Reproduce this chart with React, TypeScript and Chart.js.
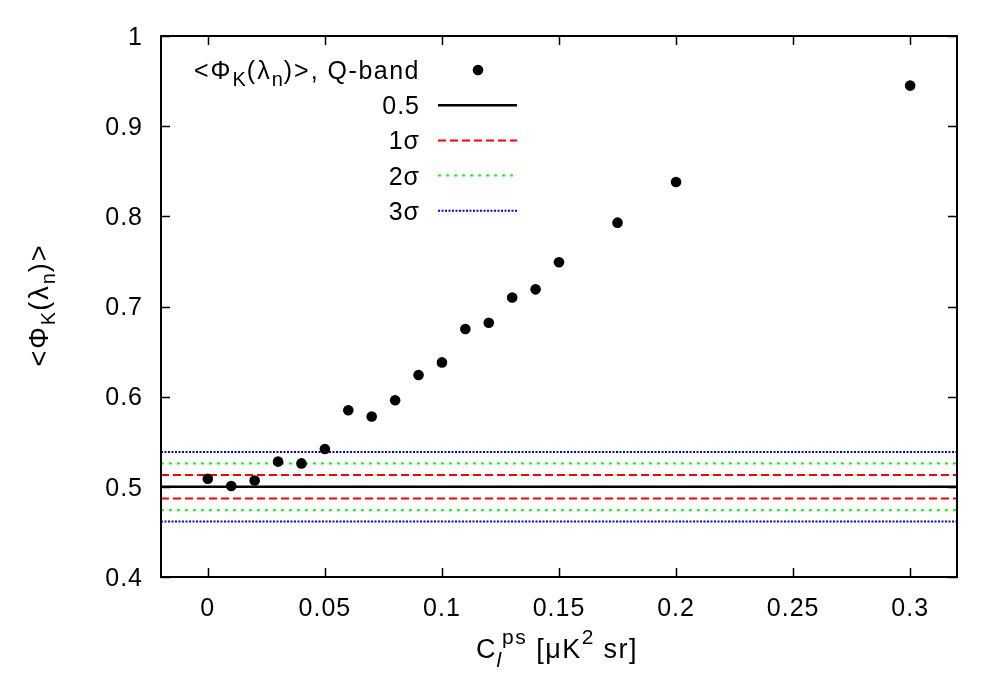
import React, { useEffect, useRef } from "react";
import { Chart, registerables } from "chart.js";

Chart.register(...registerables);

// ---- data ----
const cpsValues = [0, 0.01, 0.02, 0.03, 0.04, 0.05, 0.06, 0.07, 0.08, 0.09, 0.1, 0.11, 0.12, 0.13, 0.14, 0.15, 0.175, 0.2, 0.3];
const phiValues = [0.509, 0.501, 0.507, 0.528, 0.526, 0.542, 0.585, 0.578, 0.596, 0.624, 0.638, 0.675, 0.682, 0.71, 0.719, 0.749, 0.793, 0.838, 0.945];
const centralLevel = 0.5;
const sigma1Levels = [0.513, 0.487];
const sigma2Levels = [0.526, 0.474];
const sigma3Levels = [0.5385, 0.4615];
const xTickValues = [0, 0.05, 0.1, 0.15, 0.2, 0.25, 0.3];
const xTickLabels = ["0", "0.05", "0.1", "0.15", "0.2", "0.25", "0.3"];
const yTickValues = [0.4, 0.5, 0.6, 0.7, 0.8, 0.9, 1];
const yTickLabels = ["0.4", "0.5", "0.6", "0.7", "0.8", "0.9", "1"];
const xRange = [-0.02, 0.32];
const yRange = [0.4, 1];

const FAMILY = '"Liberation Sans", Arial, Helvetica, sans-serif';
const TICK = 25;
const MAIN = 25;
const TITLE = 27;
const SMALL = 20;
const SPACING = 1;

type Seg = { t: string; size?: number; dy?: number; italic?: boolean; sp?: number };

function segFont(s: Seg, base: number) {
  return `${s.italic ? "italic " : ""}${s.size ?? base}px ${FAMILY}`;
}

function drawRich(
  ctx: CanvasRenderingContext2D,
  segs: Seg[],
  x: number,
  y: number,
  align: "left" | "right" | "center",
  base: number
) {
  const c: any = ctx;
  const widths = segs.map((s) => {
    ctx.font = segFont(s, base);
    c.letterSpacing = `${s.sp ?? SPACING}px`;
    return ctx.measureText(s.t).width;
  });
  const total = widths.reduce((a, b) => a + b, 0);
  let cx = align === "left" ? x : align === "right" ? x - total + SPACING : x - total / 2;
  ctx.textAlign = "left";
  ctx.textBaseline = "alphabetic";
  segs.forEach((s, i) => {
    ctx.font = segFont(s, base);
    c.letterSpacing = `${s.sp ?? SPACING}px`;
    ctx.fillText(s.t, cx, y + (s.dy ?? 0));
    cx += widths[i];
  });
  c.letterSpacing = "0px";
}

const phiLabel: Seg[] = [
  { t: "<Φ", sp: 2 },
  { t: "K", size: SMALL, dy: 7 },
  { t: "(λ", sp: 2 },
  { t: "n", size: SMALL, dy: 7 },
  { t: ")>", sp: 2 },
];

const xTitle: Seg[] = [
  { t: "C" },
  { t: "l", size: SMALL + 1, dy: 9, italic: true },
  { t: "ps", size: SMALL + 1, dy: -14, sp: 1.5 },
  { t: " [μK", sp: 1.5 },
  { t: "2", size: SMALL + 1, dy: -14 },
  { t: " sr]", sp: 1.5 },
];

type LegendRow = { label: Seg[]; kind: "dot" | "line"; color?: string; dash?: number[]; width?: number };
const legendRows: LegendRow[] = [
  { label: [...phiLabel, { t: ", Q-band", sp: 1.5 }], kind: "dot" },
  { label: [{ t: "0.5" }], kind: "line", color: "#000000", dash: [], width: 2.5 },
  { label: [{ t: "1σ" }], kind: "line", color: "#ff0000", dash: [8, 4], width: 2 },
  { label: [{ t: "2σ" }], kind: "line", color: "#00ff00", dash: [3, 5], width: 2 },
  { label: [{ t: "3σ" }], kind: "line", color: "#0000ff", dash: [2, 1.5], width: 2 },
];

const framePlugin = {
  id: "gnuplotFrame",
  afterDraw(chart: any) {
    const ctx: CanvasRenderingContext2D = chart.ctx;
    const { left, right, top, bottom } = chart.chartArea;
    const xs = chart.scales.x;
    const ys = chart.scales.y;
    ctx.save();
    ctx.strokeStyle = "#000";
    ctx.fillStyle = "#000";
    ctx.setLineDash([]);
    // ticks (inward, mirrored)
    ctx.lineWidth = 1.5;
    const tl = 9;
    ctx.beginPath();
    xTickValues.forEach((v) => {
      const px = Math.round(xs.getPixelForValue(v)) + 0.5;
      ctx.moveTo(px, bottom);
      ctx.lineTo(px, bottom - tl);
      ctx.moveTo(px, top);
      ctx.lineTo(px, top + tl);
    });
    yTickValues.forEach((v) => {
      const py = Math.round(ys.getPixelForValue(v)) + 0.5;
      ctx.moveTo(left, py);
      ctx.lineTo(left + tl, py);
      ctx.moveTo(right, py);
      ctx.lineTo(right - tl, py);
    });
    ctx.stroke();
    // frame
    ctx.lineWidth = 2;
    ctx.strokeRect(left, top, right - left, bottom - top);

    // tick labels
    xTickValues.forEach((v, i) => {
      drawRich(ctx, [{ t: xTickLabels[i] }], xs.getPixelForValue(v), bottom + 38.5, "center", TICK);
    });
    yTickValues.forEach((v, i) => {
      drawRich(ctx, [{ t: yTickLabels[i] }], left - 19, ys.getPixelForValue(v) + 8.8, "right", TICK);
    });

    // axis titles
    drawRich(ctx, xTitle, (left + right) / 2 - 2, 658, "center", TITLE);
    ctx.save();
    ctx.translate(48, 305);
    ctx.rotate(-Math.PI / 2);
    drawRich(ctx, phiLabel, 0, 0, "center", TITLE);
    ctx.restore();

    // legend
    const textRight = 419;
    const sx0 = 438;
    const sx1 = 517;
    legendRows.forEach((row, i) => {
      const cy = 70 + i * 35.2;
      ctx.fillStyle = "#000";
      drawRich(ctx, row.label, textRight, cy + 9, "right", MAIN);
      if (row.kind === "dot") {
        ctx.beginPath();
        ctx.arc(478, cy, 5.3, 0, Math.PI * 2);
        ctx.fill();
      } else {
        ctx.strokeStyle = row.color!;
        ctx.lineWidth = row.width!;
        ctx.setLineDash(row.dash!);
        ctx.beginPath();
        ctx.moveTo(sx0, cy);
        ctx.lineTo(sx1, cy);
        ctx.stroke();
        ctx.setLineDash([]);
      }
    });
    ctx.restore();
  },
};

function hLine(y: number, color: string, dash: number[], width: number) {
  return {
    type: "line" as const,
    data: [
      { x: xRange[0], y },
      { x: xRange[1], y },
    ],
    borderColor: color,
    borderWidth: width,
    borderDash: dash,
    pointRadius: 0,
    fill: false,
    order: 1,
  };
}

export default function App() {
  const canvasRef = useRef<HTMLCanvasElement | null>(null);

  useEffect(() => {
    if (!canvasRef.current) return;
    const datasets: any[] = [
      {
        type: "scatter",
        label: "points",
        data: cpsValues.map((x, i) => ({ x, y: phiValues[i] })),
        backgroundColor: "#000",
        borderWidth: 0,
        pointRadius: 5.3,
        pointHoverRadius: 5.3,
        order: 0,
      },
      hLine(centralLevel, "#000000", [], 2.5),
      ...sigma1Levels.map((v) => hLine(v, "#ff0000", [8, 4], 2)),
      ...sigma2Levels.map((v) => hLine(v, "#00ff00", [3, 5], 2)),
      ...sigma3Levels.map((v) => hLine(v, "#0000ff", [2, 1.5], 2)),
    ];
    const chart = new Chart(canvasRef.current, {
      type: "scatter",
      data: { datasets },
      options: {
        animation: false,
        responsive: true,
        maintainAspectRatio: false,
        layout: { padding: { top: 36, right: 43, left: 0, bottom: 0 } },
        plugins: { legend: { display: false }, tooltip: { enabled: false } },
        scales: {
          x: {
            type: "linear",
            min: xRange[0],
            max: xRange[1],
            afterBuildTicks: (s: any) => {
              s.ticks = xTickValues.map((v) => ({ value: v }));
            },
            afterFit: (s: any) => {
              s.height = 123;
            },
            grid: { display: false, drawTicks: false },
            border: { display: false },
            ticks: { display: false },
          },
          y: {
            type: "linear",
            min: yRange[0],
            max: yRange[1],
            afterBuildTicks: (s: any) => {
              s.ticks = yTickValues.map((v) => ({ value: v }));
            },
            afterFit: (s: any) => {
              s.width = 161;
            },
            grid: { display: false, drawTicks: false },
            border: { display: false },
            ticks: { display: false },
          },
        },
      },
      plugins: [framePlugin],
    });
    return () => chart.destroy();
  }, []);

  return (
    <div style={{ position: "fixed", left: 0, top: 0, width: 1000, height: 700, background: "#fff" }}>
      <canvas ref={canvasRef} />
    </div>
  );
}
